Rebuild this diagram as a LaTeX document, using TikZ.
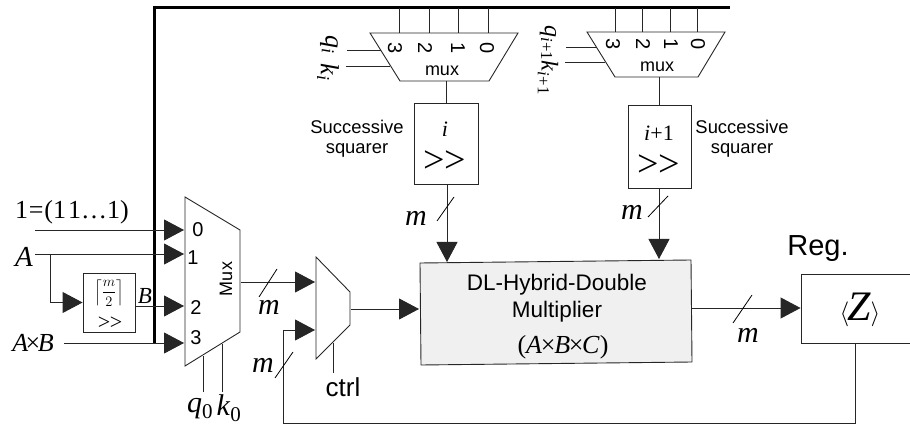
\documentclass[tikz,border=0pt]{standalone}
\usepackage{fontspec}
\usepackage{amsmath}
\setmainfont{Liberation Serif}
\setsansfont{Liberation Sans}
\usetikzlibrary{arrows.meta}
\newcommand{\fsz}[1]{\fontsize{#1}{#1}\selectfont}
\newcommand{\shr}{>\kern-0.02em{}>}
\tikzset{
  wire/.style={line width=0.9pt,draw=black!85},
  arrowwire/.style={wire,-{Triangle[length=20pt,width=21pt]}},
  thickbus/.style={line width=3pt,draw=black},
  block/.style={draw=black!85,line width=0.9pt,inner sep=0pt,fill=white},
  lab/.style={inner sep=0pt},
  digit/.style={inner sep=0pt,font=\sffamily\fsz{20}},
  digitrot/.style={digit,rotate=-90},
  sq/.style={inner sep=0pt,font=\sffamily\fsz{18.4}},
  mname/.style={inner sep=0pt,font=\fsz{30}},
  slashmark/.style={line width=0.8pt,draw=black},
}
\begin{document}
\begin{tikzpicture}[x=1pt,y=-1pt]
\useasboundingbox (0,0) rectangle (910,430);
% multiplexer outlines
\coordinate (mA) at (185,197); \coordinate (mB) at (240,230); \coordinate (mC) at (240,332); \coordinate (mD) at (185,366);
\draw[wire] (mA)--(mB)--(mC)--(mD)--cycle;
\coordinate (sA) at (316,257); \coordinate (sB) at (350,292); \coordinate (sC) at (350,325); \coordinate (sD) at (316,359);
\draw[wire] (sA)--(sB)--(sC)--(sD)--cycle;
\draw[wire] (370,33)--(518,33)--(489,81)--(400,81)--cycle;
\draw[wire] (587,32)--(725,32)--(698,77)--(615,77)--cycle;
% blocks
\node[block,minimum width=52pt,minimum height=59pt] (shift) at (109,302.5) {};
\node[block,minimum width=64pt,minimum height=81pt] (sqi) at (446,143.5) {};
\node[block,minimum width=63pt,minimum height=83pt] (sqj) at (659.5,146.5) {};
\node[block,minimum width=109pt,minimum height=69pt] (reg) at (855.5,308.5) {};
\draw[wire,fill=black!6] (420,263)--(691,260)--(692,362)--(421,365)--cycle;
% bus
\coordinate (busEnd) at (154,343);
\coordinate (busCorner) at (154,8);
\coordinate (busRight) at (730,8);
\draw[thickbus,line join=miter] (busEnd)--(busCorner)--(busRight);
% inputs to main mux
\coordinate (in0) at (35,230); \coordinate (in1) at (35,254); \coordinate (in3) at (64,343);
\coordinate (t0) at (184,230); \coordinate (t1) at (184,254); \coordinate (t2) at (184,306); \coordinate (t3) at (184,343);
\coordinate (branch) at (50,254);
\draw[arrowwire] (in0)--(t0);
\draw[arrowwire] (in1)--(t1);
\draw[arrowwire] (in3)--(t3);
\draw[arrowwire] (branch)|-(shift.west);
\draw[arrowwire] (shift.east|-t2)--(t2);
% mux select lines
\coordinate (q0a) at (203,356); \coordinate (q0b) at (203,392);
\coordinate (k0a) at (222,344); \coordinate (k0b) at (222,392);
\draw[wire] (q0a)--(q0b); \draw[wire] (k0a)--(k0b);
% mux to mux
\coordinate (mOut) at (241,282); \coordinate (sIn) at (315,282);
\draw[arrowwire] (mOut)--(sIn);
\draw[slashmark] (259,297)--(277,269);
% ctrl
\coordinate (cA) at (333,343); \coordinate (cB) at (333,373);
\draw[wire] (cA)--(cB);
% feedback
\coordinate (fbIn) at (315,330); \coordinate (fbC) at (283,423);
\draw[arrowwire] (reg.south) |- (fbC) |- (fbIn);
\draw[slashmark] (275,378)--(293,352);
% mux2 to mult, mult to reg
\coordinate (sOut) at (351,309); \coordinate (mIn) at (419,309);
\draw[arrowwire] (sOut)--(mIn);
\coordinate (mOutR) at (692,308);
\draw[arrowwire] (mOutR)--(mOutR-|reg.west);
\draw[slashmark] (752,295)--(733,323);
% top wires
\foreach \x in {399,429,458,488} \draw[wire] (\x,8)--(\x,33);
\foreach \x in {615,642,670,697} \draw[wire] (\x,8)--(\x,32);
\coordinate (miOut) at (446,81); \coordinate (mjOut) at (659,77);
\draw[wire] (miOut)--(sqi.north-|miOut);
\draw[wire] (mjOut)--(sqj.north-|mjOut);
\coordinate (mi) at (447,262); \coordinate (mj) at (659,259);
\draw[arrowwire] (sqi.south-|mi)--(mi);
\draw[arrowwire] (sqj.south-|mj)--(mj);
\draw[slashmark] (437,221)--(454,197);
\draw[slashmark] (648,217)--(668,196);
% select lines top muxes
\draw[wire] (347,50)--(381,50); \draw[wire] (346,66)--(390,66);
\draw[wire] (566,47)--(597,47); \draw[wire] (565,62)--(605,62);
% text
\node[lab,font=\fsz{26}] at (72,212) {1\kern0.03em=\kern0.03em(1\kern0.08em1…1)};
\node[lab,font=\fsz{29}] at (24,257) {\textit{A}};
\node[lab,font=\fsz{26}] at (33,343) {\textit{A}\kern-0.1em×\kern-0.1em\textit{B}};
\node[lab,font=\fsz{23}] at (145,296) {\textit{B}};
\node[lab,font=\fsz{14}] at (109,293) {$\displaystyle\left\lceil\frac{m}{2}\right\rceil$};
\node[lab,font=\fsz{22}] at (110,323) {\shr};
\node[digit] at (198,230) {0};
\node[digit] at (193,258) {1};
\node[digit] at (196,308) {2};
\node[digit] at (196,338) {3};
\node[lab,rotate=90,font=\sffamily\fsz{18}] at (226,279) {Mux};
\node[mname] at (269,307) {\textit{m}};
\node[mname] at (263,365) {\textit{m}};
\node[mname] at (748,335) {\textit{m}};
\node[mname] at (416,218) {\textit{m}};
\node[mname] at (632,212) {\textit{m}};
\node[lab,font=\fsz{30}] at (200,409) {\textit{q}\textsubscript{0}};
\node[lab,font=\fsz{30}] at (229,408) {\textit{k}\textsubscript{0}};
\node[lab,font=\sffamily\fsz{26}] at (343,387) {ctrl};
\node[lab,font=\sffamily\fsz{29}] at (818,249) {Reg.};
\node[lab] at (860,310) {\fsz{56}$\langle$\fsz{42}\kern-0.04em\textit{Z}\kern-0.02em\fsz{56}$\rangle$};
\node[lab,font=\sffamily\fsz{22.5}] at (557,285) {DL-Hybrid-Double};
\node[lab,font=\sffamily\fsz{22.5}] at (557,312) {Multiplier};
\node[lab,font=\fsz{26}] at (563,347) {(\textit{A}\kern-0.05em×\kern-0.05em\textit{B}\kern-0.05em×\kern-0.05em\textit{C})};
\foreach \x/\t in {395/3,425/2,458/1,487/0} \node[digitrot] at (\x,48) {\t};
\foreach \x/\t in {613/3,643/2,671/1,698/0} \node[digitrot] at (\x,44) {\t};
\node[lab,font=\sffamily\fsz{18}] at (442,71) {mux};
\node[lab,font=\sffamily\fsz{18}] at (657,67) {mux};
\node[sq] at (357,127) {Successive};
\node[sq] at (357,150) {squarer};
\node[sq] at (742,127) {Successive};
\node[sq] at (742,150) {squarer};
\node[lab,font=\fsz{22}] at (445,129) {\textit{i}};
\node[lab,font=\fsz{22}] at (659,133) {\textit{i}+1};
\node[lab,font=\fsz{38}] at (445,162) {\shr};
\node[lab,font=\fsz{38}] at (659,166) {\shr};
\node[lab,font=\fsz{26},rotate=-90] at (329,45) {\textit{q}\textsubscript{\textit{i}}};
\node[lab,font=\fsz{26},rotate=-90] at (328,72) {\textit{k}\textsubscript{\textit{i}}};
\node[lab,font=\fsz{24},rotate=-90] at (548,43) {\textit{q}\textsubscript{\textit{i}+1}};
\node[lab,font=\fsz{24},rotate=-90] at (548,78) {\textit{k}\textsubscript{\textit{i}+1}};
\end{tikzpicture}
\end{document}
